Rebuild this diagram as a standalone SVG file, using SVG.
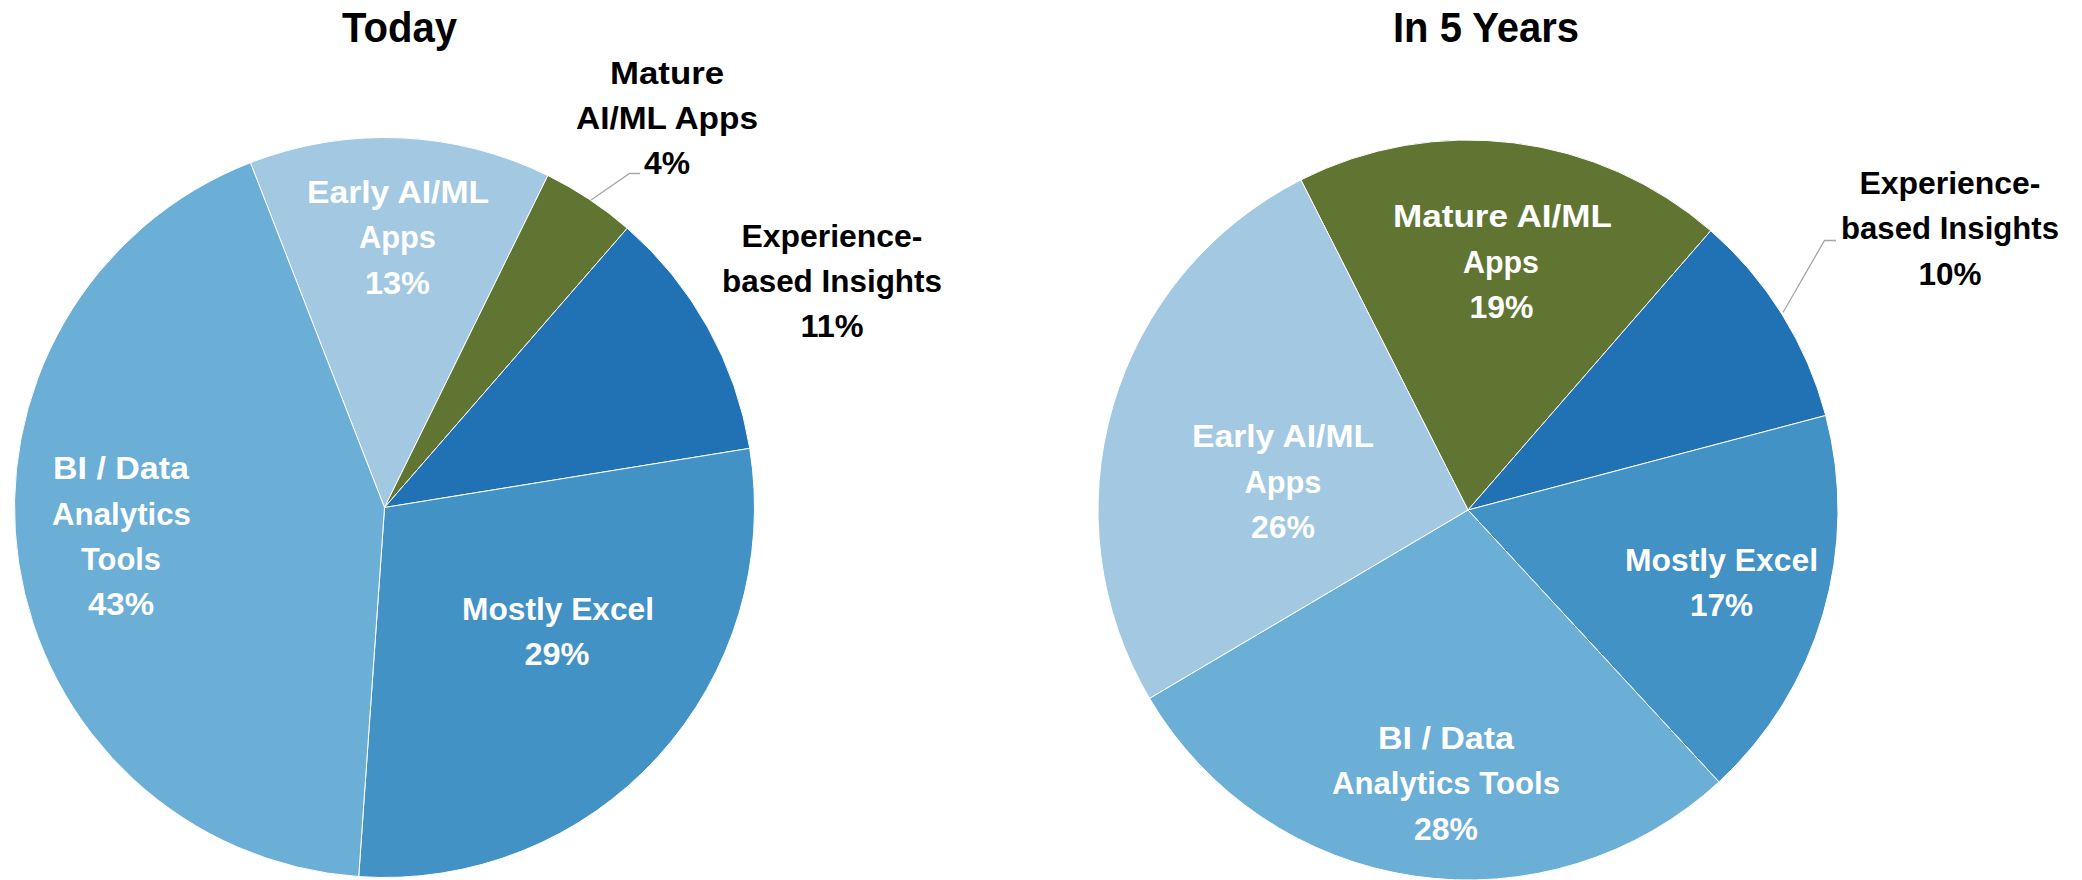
<svg xmlns="http://www.w3.org/2000/svg" width="2082" height="880" viewBox="0 0 2082 880">
<style>
.t{font-family:"Liberation Sans",Arial,sans-serif;font-weight:bold;text-anchor:middle;font-size:32px;}
.ttl{font-size:42px;fill:#000;}
.w{fill:#fff;}
.k{fill:#000;}
.s{stroke:#fff;stroke-width:1;stroke-linejoin:round;}
.early{fill:#A2C9E1;}
.mature{fill:#617532;}
.exp{fill:#2171B5;}
.excel{fill:#4392C6;}
.bi{fill:#6BAED6;}
.lead{fill:none;stroke:#A6A6A6;stroke-width:1.3;}
</style>
<rect width="2082" height="880" fill="#fff"/>

<!-- Left pie: Today -->
<g id="title-today"><text class="t ttl" x="399.5" y="42" textLength="115" lengthAdjust="spacingAndGlyphs">Today</text></g>

<g id="today-early">
<path class="early s" d="M384.5,507.5 L250.40,162.66 A370,370 0 0 1 547.86,175.51 Z"/>
<text class="t w" x="398" y="203" textLength="182" lengthAdjust="spacingAndGlyphs">Early AI/ML</text>
<text class="t w" x="397.5" y="248" textLength="77" lengthAdjust="spacingAndGlyphs">Apps</text>
<text class="t w" x="397.5" y="294" textLength="65" lengthAdjust="spacingAndGlyphs">13%</text>
</g>
<g id="today-mature">
<path class="mature s" d="M384.5,507.5 L547.86,175.51 A370,370 0 0 1 627.24,228.26 Z"/>
<text class="t k" x="667" y="84" textLength="114" lengthAdjust="spacingAndGlyphs">Mature</text>
<text class="t k" x="667" y="128.5" textLength="182" lengthAdjust="spacingAndGlyphs">AI/ML Apps</text>
<text class="t k" x="667" y="174" textLength="46" lengthAdjust="spacingAndGlyphs">4%</text>
</g>
<g id="today-experience">
<path class="exp s" d="M384.5,507.5 L627.24,228.26 A370,370 0 0 1 749.74,448.34 Z"/>
<text class="t k" x="832" y="247" textLength="181" lengthAdjust="spacingAndGlyphs">Experience-</text>
<text class="t k" x="832" y="292" textLength="220" lengthAdjust="spacingAndGlyphs">based Insights</text>
<text class="t k" x="832" y="337" textLength="63" lengthAdjust="spacingAndGlyphs">11%</text>
</g>
<g id="today-excel">
<path class="excel s" d="M384.5,507.5 L749.74,448.34 A370,370 0 0 1 358.69,876.60 Z"/>
<text class="t w" x="558" y="620" textLength="192" lengthAdjust="spacingAndGlyphs">Mostly Excel</text>
<text class="t w" x="557" y="665" textLength="65" lengthAdjust="spacingAndGlyphs">29%</text>
</g>
<g id="today-bi">
<path class="bi s" d="M384.5,507.5 L358.69,876.60 A370,370 0 0 1 250.40,162.66 Z"/>
<text class="t w" x="121" y="479" textLength="136" lengthAdjust="spacingAndGlyphs">BI / Data</text>
<text class="t w" x="121.5" y="524.5" textLength="139" lengthAdjust="spacingAndGlyphs">Analytics</text>
<text class="t w" x="121" y="569.5" textLength="80" lengthAdjust="spacingAndGlyphs">Tools</text>
<text class="t w" x="121" y="614.5" textLength="66" lengthAdjust="spacingAndGlyphs">43%</text>
</g>

<!-- Right pie: In 5 Years -->
<g id="title-5years"><text class="t ttl" x="1486" y="42" textLength="186" lengthAdjust="spacingAndGlyphs">In 5 Years</text></g>

<g id="future-mature">
<path class="mature s" d="M1468,510 L1300.89,179.89 A370,370 0 0 1 1710.74,230.76 Z"/>
<text class="t w" x="1502.5" y="227" textLength="219" lengthAdjust="spacingAndGlyphs">Mature AI/ML</text>
<text class="t w" x="1501" y="273" textLength="76" lengthAdjust="spacingAndGlyphs">Apps</text>
<text class="t w" x="1501.5" y="318" textLength="64" lengthAdjust="spacingAndGlyphs">19%</text>
</g>
<g id="future-experience">
<path class="exp s" d="M1468,510 L1710.74,230.76 A370,370 0 0 1 1825.73,415.48 Z"/>
<text class="t k" x="1950" y="193.5" textLength="181" lengthAdjust="spacingAndGlyphs">Experience-</text>
<text class="t k" x="1950" y="238.5" textLength="218" lengthAdjust="spacingAndGlyphs">based Insights</text>
<text class="t k" x="1950" y="285" textLength="63" lengthAdjust="spacingAndGlyphs">10%</text>
</g>
<g id="future-excel">
<path class="excel s" d="M1468,510 L1825.73,415.48 A370,370 0 0 1 1718.94,781.92 Z"/>
<text class="t w" x="1721.5" y="571" textLength="193" lengthAdjust="spacingAndGlyphs">Mostly Excel</text>
<text class="t w" x="1721.5" y="616" textLength="63" lengthAdjust="spacingAndGlyphs">17%</text>
</g>
<g id="future-bi">
<path class="bi s" d="M1468,510 L1718.94,781.92 A370,370 0 0 1 1149.52,698.35 Z"/>
<text class="t w" x="1446" y="749" textLength="136" lengthAdjust="spacingAndGlyphs">BI / Data</text>
<text class="t w" x="1446" y="794" textLength="228" lengthAdjust="spacingAndGlyphs">Analytics Tools</text>
<text class="t w" x="1446" y="840" textLength="64" lengthAdjust="spacingAndGlyphs">28%</text>
</g>
<g id="future-early">
<path class="early s" d="M1468,510 L1149.52,698.35 A370,370 0 0 1 1300.89,179.89 Z"/>
<text class="t w" x="1283" y="447" textLength="182" lengthAdjust="spacingAndGlyphs">Early AI/ML</text>
<text class="t w" x="1283" y="492.5" textLength="77" lengthAdjust="spacingAndGlyphs">Apps</text>
<text class="t w" x="1283" y="537.5" textLength="64" lengthAdjust="spacingAndGlyphs">26%</text>
</g>

<g id="connectors">
<polyline class="lead" points="640,173.5 629.5,173.5 591,200"/>
<polyline class="lead" points="1836,240.5 1824.5,240.5 1783,312.5"/>
</g>
</svg>
